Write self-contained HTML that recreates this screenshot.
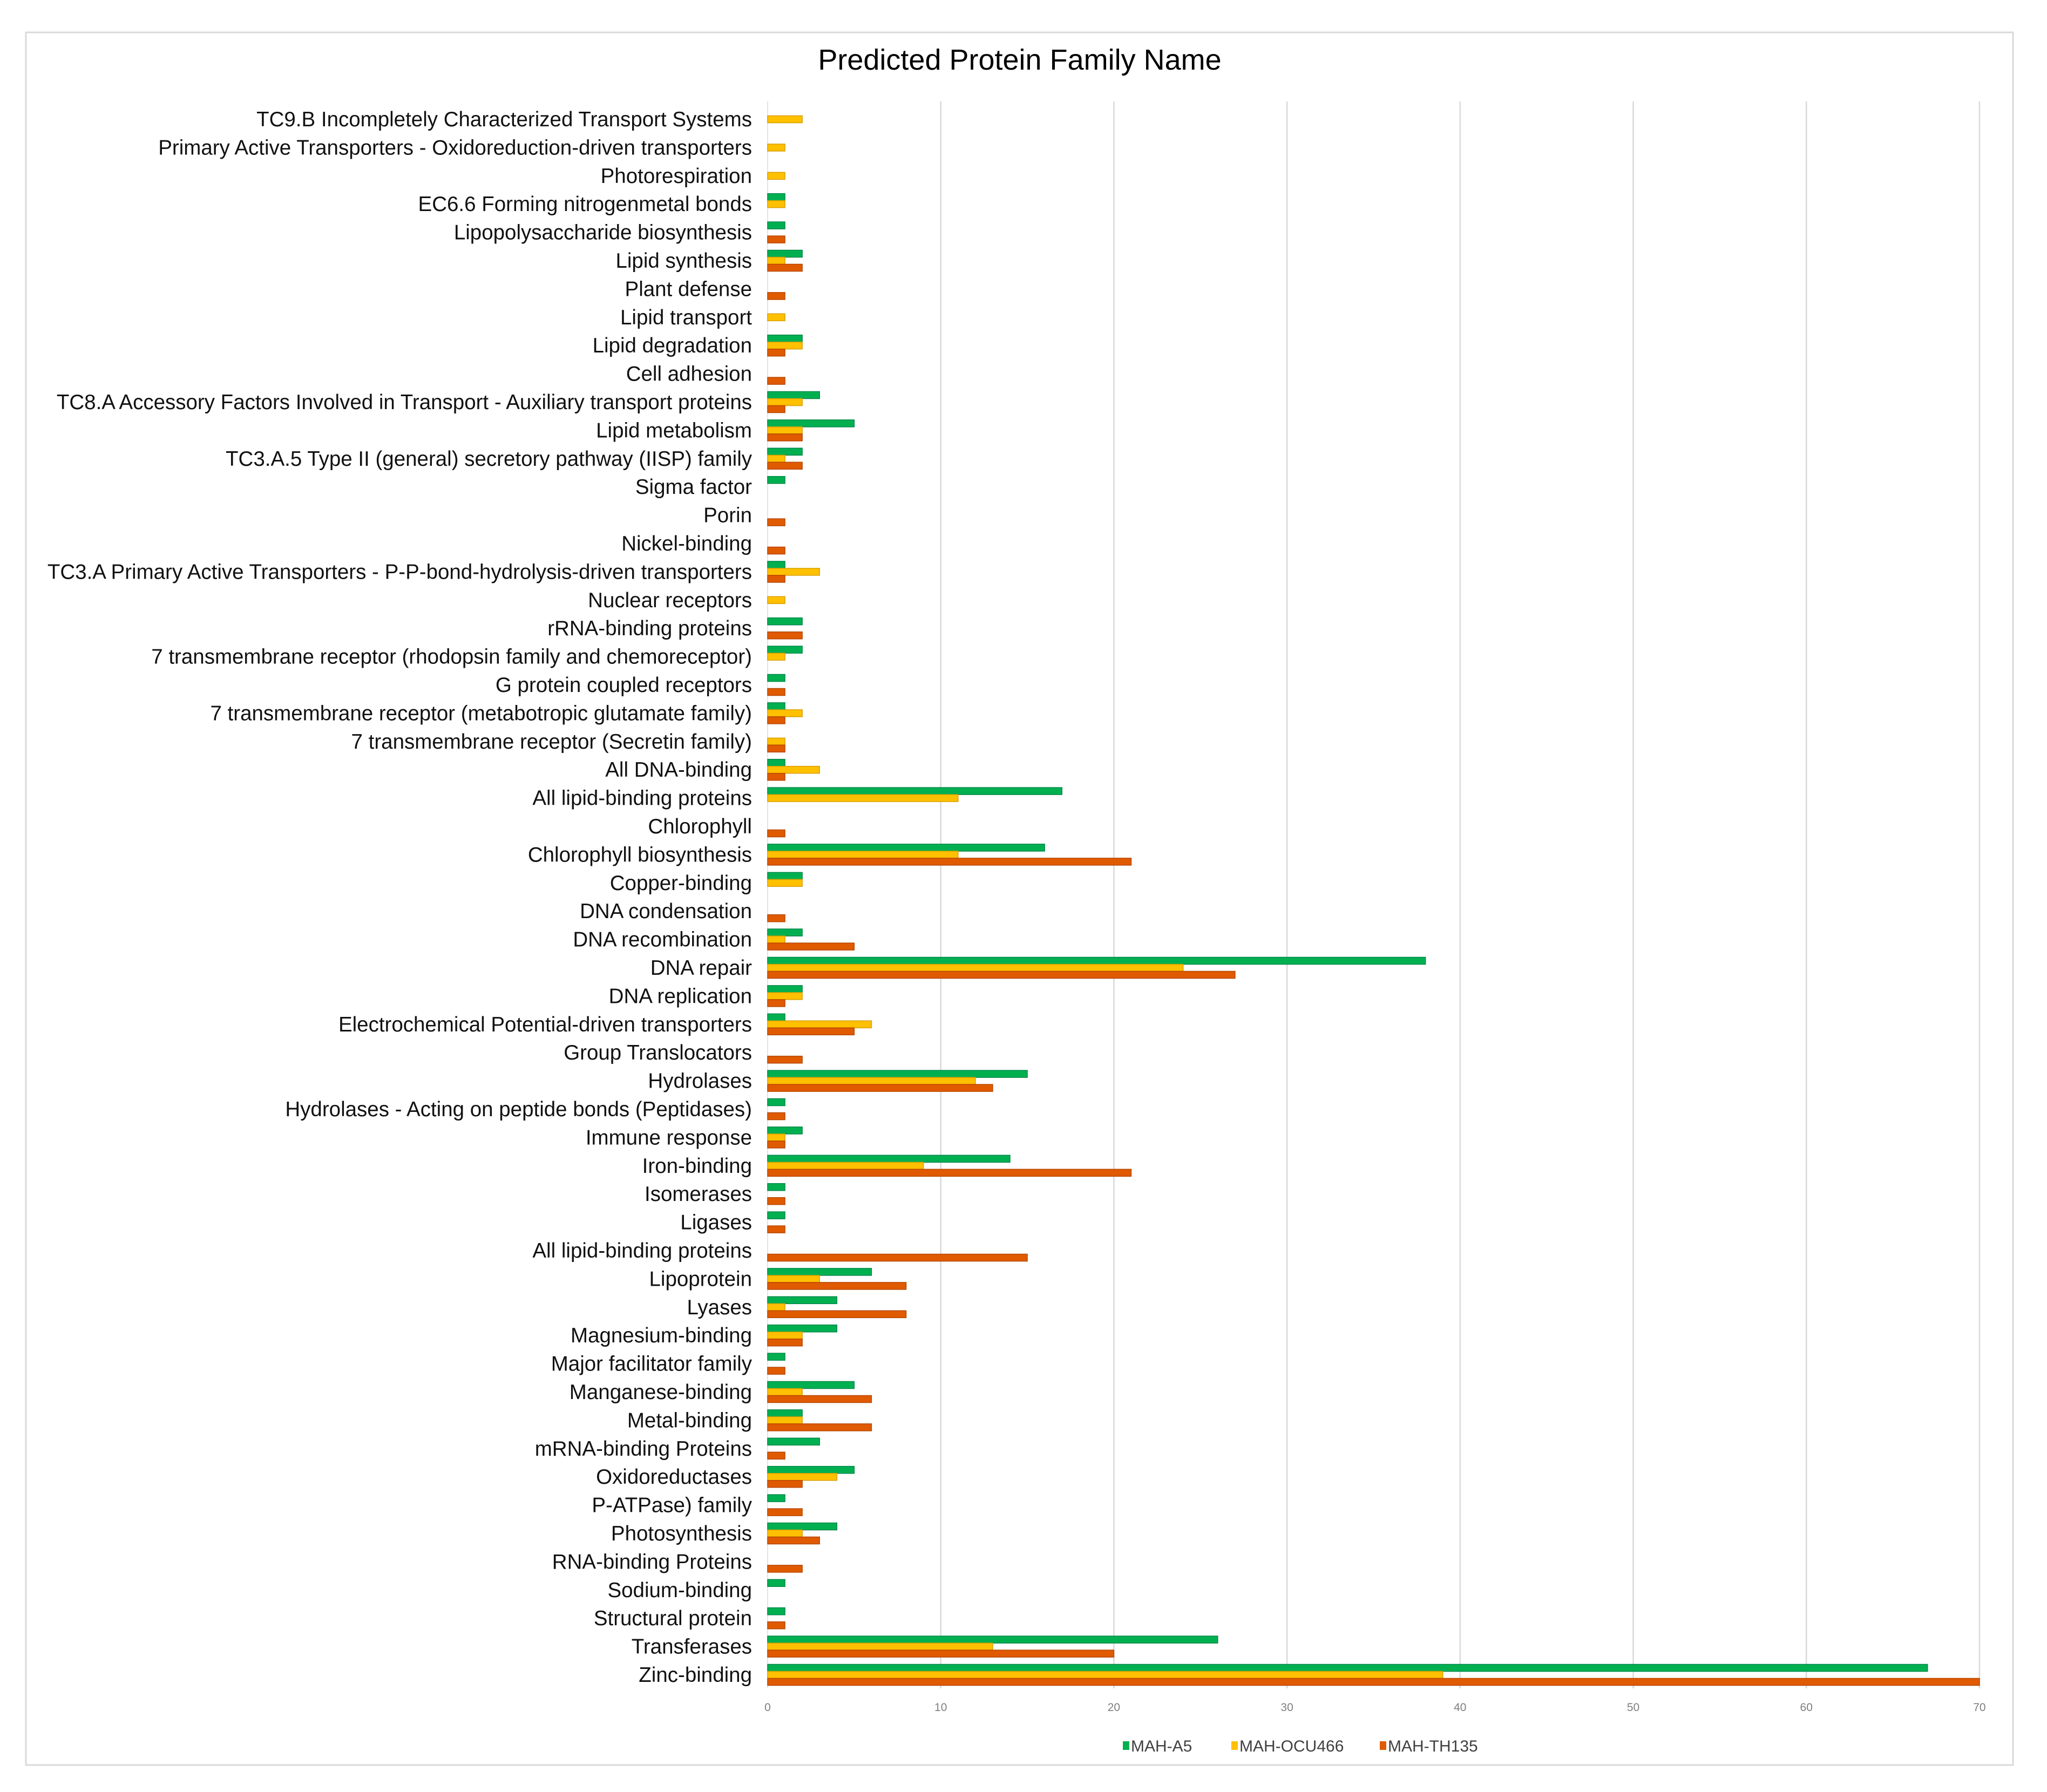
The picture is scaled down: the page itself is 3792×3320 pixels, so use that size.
<!DOCTYPE html>
<html><head><meta charset="utf-8">
<style>
html,body{margin:0;padding:0;background:#fff;}
svg{display:block;font-family:"Liberation Sans",Arial,sans-serif;}
</style></head>
<body>
<svg id="chart" width="3792" height="3320" viewBox="0 0 3792 3320" xmlns="http://www.w3.org/2000/svg">
<rect x="48" y="60" width="3681" height="3210" fill="#fff" stroke="#d9d9d9" stroke-width="3"/>
<text x="1889" y="129" font-size="54" text-anchor="middle" fill="#000">Predicted Protein Family Name</text>
<g id="grid"></g>
<g id="bars"></g>
<g id="labels"></g>
<g id="ticks"></g>
<g id="legend"></g>
</svg>
<script>
const categories = ["TC9.B Incompletely Characterized Transport Systems ","Primary Active Transporters -  Oxidoreduction-driven transporters ","Photorespiration","EC6.6 Forming nitrogenmetal bonds","Lipopolysaccharide biosynthesis","Lipid synthesis","Plant defense","Lipid transport","Lipid degradation","Cell adhesion","TC8.A Accessory Factors Involved in Transport  -  Auxiliary transport proteins ","Lipid metabolism","TC3.A.5 Type II (general) secretory pathway (IISP) family","Sigma factor","Porin","Nickel-binding","TC3.A Primary Active Transporters -  P-P-bond-hydrolysis-driven transporters ","Nuclear receptors","rRNA-binding proteins","7 transmembrane receptor (rhodopsin family and chemoreceptor)","G protein coupled receptors","7 transmembrane receptor (metabotropic glutamate family)","7 transmembrane receptor (Secretin family)","All DNA-binding","All lipid-binding proteins","Chlorophyll","Chlorophyll biosynthesis","Copper-binding","DNA condensation","DNA recombination","DNA repair","DNA replication","Electrochemical Potential-driven transporters","Group Translocators","Hydrolases","Hydrolases - Acting on peptide bonds (Peptidases)","Immune response","Iron-binding","Isomerases","Ligases","All lipid-binding proteins","Lipoprotein","Lyases","Magnesium-binding","Major facilitator family","Manganese-binding","Metal-binding","mRNA-binding Proteins","Oxidoreductases","P-ATPase) family","Photosynthesis","RNA-binding Proteins","Sodium-binding","Structural protein","Transferases","Zinc-binding"];
const seriesA5 =     [0,0,0,1,1,2,0,0,2,0,3,5,2,1,0,0,1,0,2,2,1,1,0,1,17,0,16,2,0,2,38,2,1,0,15,1,2,14,1,1,0,6,4,4,1,5,2,3,5,1,4,0,1,1,26,67];
const seriesOCU466 = [2,1,1,1,0,1,0,1,2,0,2,2,1,0,0,0,3,1,0,1,0,2,1,3,11,0,11,2,0,1,24,2,6,0,12,0,1,9,0,0,0,3,1,2,0,2,2,0,4,0,2,0,0,0,13,39];
const seriesTH135 =  [0,0,0,0,1,2,1,0,1,1,1,2,2,0,1,1,1,0,2,0,1,1,1,1,0,1,21,0,1,5,27,1,5,2,13,1,1,21,1,1,15,8,8,2,1,6,6,1,2,2,3,2,0,1,20,70];
const seriesNames = ["MAH-A5","MAH-OCU466","MAH-TH135"];
const tickValues = [0,10,20,30,40,50,60,70];

const NS="http://www.w3.org/2000/svg";
const colors=["#00b050","#ffc000","#e05a00"];
const strokes=["#00884a","#d9a000","#b84800"];
const x0=1422, unit=32.07, yTop=221, step=52.4, barH=13;
const xScale=v=>x0+v*unit;
const yScale=i=>yTop+i*step;
function mk(tag,parent){const e=document.createElementNS(NS,tag);document.getElementById(parent).appendChild(e);return e;}

tickValues.forEach((t,k)=>{
  if(t>0){const l=mk('line','grid');
  
  
  l.setAttribute('x1',xScale(t));l.setAttribute('x2',xScale(t));l.setAttribute('y1',188);l.setAttribute('y2',3128);
  l.setAttribute('stroke','#d9d9d9');l.setAttribute('stroke-width','2.5');}
  const tx=mk('text','ticks');
  
  
  tx.setAttribute('x',xScale(t));tx.setAttribute('y',3170);tx.setAttribute('font-size','21');tx.setAttribute('fill','#7f7f7f');tx.setAttribute('text-anchor','middle');
  tx.textContent=t;
});
const al=mk('line','grid');


al.setAttribute('x1',x0);al.setAttribute('x2',x0);al.setAttribute('y1',188);al.setAttribute('y2',3128);al.setAttribute('stroke','#e4e4e4');al.setAttribute('stroke-width','2');

const series=[seriesA5,seriesOCU466,seriesTH135];
categories.forEach((c,i)=>{
  const cy=yScale(i);
  const t=mk('text','labels');
  
  
  t.setAttribute('x',1393);t.setAttribute('y',cy+13);t.setAttribute('font-size','38.5');t.setAttribute('text-anchor','end');t.setAttribute('fill','#111');
  t.setAttribute('xml:space','preserve');
  t.textContent=c;
  series.forEach((s,k)=>{
    const v=s[i]; if(!v) return;
    const r=mk('rect','bars');
    
    
    r.setAttribute('x',x0);r.setAttribute('y',cy-1.5*barH+k*barH);
    r.setAttribute('width',xScale(v)-x0);r.setAttribute('height',barH);
    r.setAttribute('fill',colors[k]);r.setAttribute('stroke',strokes[k]);r.setAttribute('stroke-width','1.5');
  });
});

const legX=[2080,2281,2556];
seriesNames.forEach((n,k)=>{
  const r=mk('rect','legend');
  
  
  r.setAttribute('x',legX[k]);r.setAttribute('y',3226);r.setAttribute('width',12);r.setAttribute('height',16);r.setAttribute('fill',colors[k]);
  const t=mk('text','legend');
  
  
  t.setAttribute('x',legX[k]+15);t.setAttribute('y',3245);t.setAttribute('font-size','30');t.setAttribute('fill','#404040');
  t.textContent=n;
});
</script>
</body></html>
